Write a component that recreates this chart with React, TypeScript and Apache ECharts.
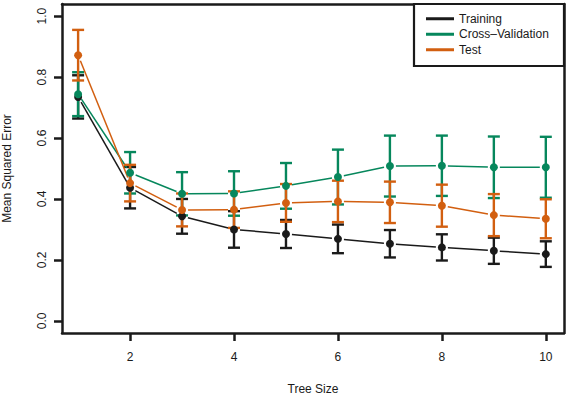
import React, { useEffect, useRef } from "react";
import * as echarts from "echarts";

const treeSizes = [1, 2, 3, 4, 5, 6, 7, 8, 9, 10];
const trainingMSE = [0.735, 0.437, 0.343, 0.3, 0.285, 0.269, 0.253, 0.241, 0.23, 0.219];
const trainingErr = [0.071, 0.068, 0.057, 0.06, 0.046, 0.047, 0.045, 0.043, 0.043, 0.042];
const cvMSE = [0.744, 0.486, 0.417, 0.418, 0.443, 0.472, 0.508, 0.509, 0.504, 0.504];
const cvErr = [0.072, 0.068, 0.071, 0.073, 0.075, 0.09, 0.1, 0.099, 0.101, 0.1];
const testMSE = [0.872, 0.452, 0.364, 0.365, 0.387, 0.392, 0.389, 0.378, 0.347, 0.335];
const testErr = [0.083, 0.06, 0.054, 0.06, 0.062, 0.068, 0.068, 0.069, 0.069, 0.064];

const seriesNames = ["Training", "Cross\u2013Validation", "Test"];
const seriesColors = ["#1a1a1a", "#06875c", "#d25f10"];
const yTicks = [0, 0.2, 0.4, 0.6, 0.8, 1.0];
const xTicks = [2, 4, 6, 8, 10];

const FONT = "'Liberation Sans', Arial, Helvetica, sans-serif";
const INK = "#1a1a1a";

function buildSeries(name: string, color: string, means: number[], errs: number[]) {
  const errData = treeSizes.map((x, i) => [x, means[i] - errs[i], means[i] + errs[i]]);
  const segData = treeSizes.slice(0, -1).map((x, i) => [x, means[i], treeSizes[i + 1], means[i + 1]]);
  const ptData = treeSizes.map((x, i) => [x, means[i]]);
  return [
    {
      type: "custom",
      name: name + " bars",
      data: errData,
      encode: { x: 0, y: [1, 2] },
      itemStyle: { color },
      renderItem: (params: any, api: any) => {
        const x = api.value(0);
        const lo = api.coord([x, api.value(1)]);
        const hi = api.coord([x, api.value(2)]);
        const cap = 6;
        const style = { stroke: color, lineWidth: 2.4 };
        return {
          type: "group",
          children: [
            { type: "line", shape: { x1: lo[0], y1: lo[1], x2: hi[0], y2: hi[1] }, style },
            { type: "line", shape: { x1: lo[0] - cap, y1: lo[1], x2: lo[0] + cap, y2: lo[1] }, style },
            { type: "line", shape: { x1: hi[0] - cap, y1: hi[1], x2: hi[0] + cap, y2: hi[1] }, style },
          ],
        };
      },
    },
    {
      type: "custom",
      name: name + " lines",
      data: segData,
      encode: { x: [0, 2], y: [1, 3] },
      itemStyle: { color },
      renderItem: (params: any, api: any) => {
        const p1 = api.coord([api.value(0), api.value(1)]);
        const p2 = api.coord([api.value(2), api.value(3)]);
        const dx = p2[0] - p1[0];
        const dy = p2[1] - p1[1];
        const len = Math.sqrt(dx * dx + dy * dy);
        const gap = 6;
        if (len <= 2 * gap) return null;
        const ux = dx / len;
        const uy = dy / len;
        return {
          type: "line",
          shape: {
            x1: p1[0] + ux * gap,
            y1: p1[1] + uy * gap,
            x2: p2[0] - ux * gap,
            y2: p2[1] - uy * gap,
          },
          style: { stroke: color, lineWidth: 1.5 },
        };
      },
    },
    {
      type: "scatter",
      name,
      data: ptData,
      symbol: "circle",
      symbolSize: 8,
      itemStyle: { color, opacity: 1 },
    },
  ];
}

const frameLine = { show: true, onZero: false, lineStyle: { color: INK, width: 2.5 } };

export default function App() {
  const ref = useRef<HTMLDivElement>(null);
  useEffect(() => {
    if (!ref.current) return;
    const chart = echarts.init(ref.current, undefined, { renderer: "svg" });
    const series = [
      ...buildSeries(seriesNames[0], seriesColors[0], trainingMSE, trainingErr),
      ...buildSeries(seriesNames[1], seriesColors[1], cvMSE, cvErr),
      ...buildSeries(seriesNames[2], seriesColors[2], testMSE, testErr),
    ];
    chart.setOption({
      animation: false,
      backgroundColor: "#ffffff",
      textStyle: { fontFamily: FONT },
      grid: {
        left: 62,
        right: 5,
        top: 4,
        bottom: 65,
        containLabel: false,
        outerBoundsMode: "none",
      },
      xAxis: [
        {
          type: "value",
          position: "bottom",
          min: 0.69,
          max: 10.35,
          name: "Tree Size",
          nameLocation: "middle",
          nameGap: 50,
          nameMoveOverlap: false,
          nameTextStyle: { color: INK, fontSize: 12, fontFamily: FONT },
          axisLine: frameLine,
          splitLine: { show: false },
          axisTick: {
            show: true,
            inside: false,
            customValues: xTicks,
            length: 8,
            lineStyle: { color: INK, width: 2.5 },
          },
          axisLabel: {
            customValues: xTicks,
            margin: 18,
            color: INK,
            fontSize: 12,
            fontFamily: FONT,
          },
        },
        {
          type: "value",
          position: "top",
          min: 0.69,
          max: 10.35,
          axisLine: frameLine,
          axisTick: { show: false },
          axisLabel: { show: false },
          splitLine: { show: false },
        },
      ],
      yAxis: [
        {
          type: "value",
          position: "left",
          min: -0.04,
          max: 1.04,
          name: "Mean Squared Error",
          nameLocation: "middle",
          nameRotate: 90,
          nameGap: 49,
          nameMoveOverlap: false,
          nameTextStyle: { color: INK, fontSize: 12, fontFamily: FONT },
          axisLine: frameLine,
          splitLine: { show: false },
          axisTick: {
            show: true,
            inside: false,
            customValues: yTicks,
            length: 8,
            lineStyle: { color: INK, width: 2.5 },
          },
          axisLabel: {
            customValues: yTicks,
            rotate: 90,
            align: "center",
            verticalAlign: "bottom",
            margin: 14,
            color: INK,
            fontSize: 12,
            fontFamily: FONT,
            formatter: (v: number) => v.toFixed(1),
          },
        },
        {
          type: "value",
          position: "right",
          min: -0.04,
          max: 1.04,
          axisLine: frameLine,
          axisTick: { show: false },
          axisLabel: { show: false },
          splitLine: { show: false },
        },
      ],
      legend: {
        orient: "vertical",
        left: 426,
        top: 11,
        padding: 0,
        itemGap: 0,
        itemWidth: 28,
        itemHeight: 3,
        icon: "rect",
        selectedMode: false,
        z: 6,
        data: seriesNames.map((n) => ({ name: n, icon: "rect" })),
        textStyle: { color: INK, fontSize: 12, fontFamily: FONT, lineHeight: 15.5 },
      },
      graphic: [
        {
          type: "rect",
          z: 5,
          shape: { x: 414, y: 4, width: 150, height: 62 },
          style: { fill: "#ffffff", stroke: INK, lineWidth: 2.2 },
        },
      ],
      series,
    });
    return () => chart.dispose();
  }, []);
  return <div ref={ref} style={{ width: 569, height: 398, position: "absolute", left: 0, top: 0 }} />;
}
